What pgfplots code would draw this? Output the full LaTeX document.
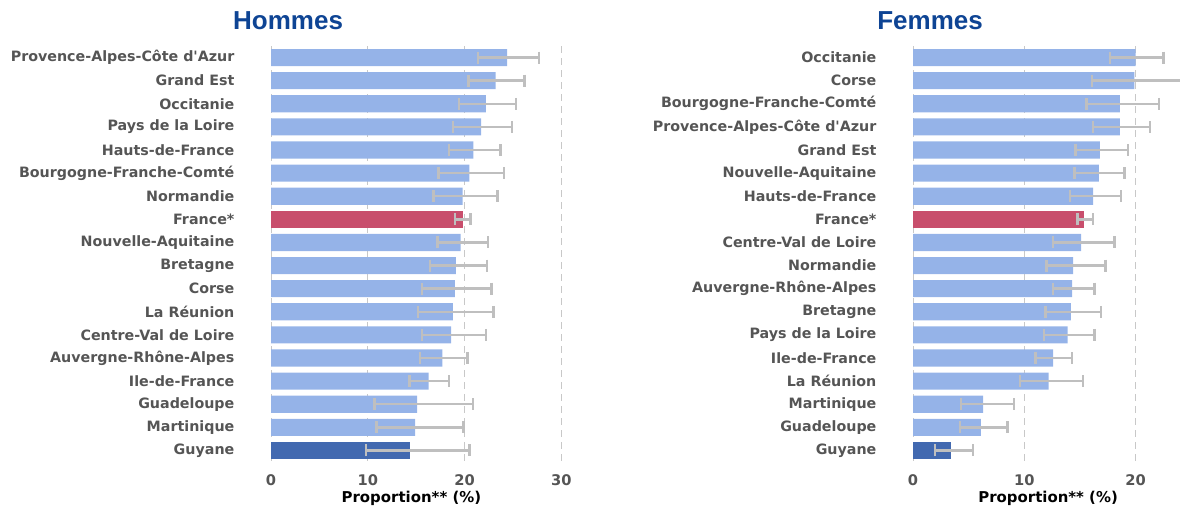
\documentclass[border=0pt]{standalone}
\usepackage{fontspec}
\setmainfont{DejaVu Sans}
\newfontfamily\titlefont{Liberation Sans}
\usepackage{pgfplots}
\usepackage{pgfplotstable}
\pgfplotsset{compat=1.18}

\definecolor{barblue}{RGB}{149,179,232}
\definecolor{barred}{RGB}{200,78,108}
\definecolor{bardark}{RGB}{66,105,176}
\definecolor{errgrey}{RGB}{191,191,191}
\definecolor{labgrey}{RGB}{85,85,85}
\definecolor{gridgrey}{RGB}{200,200,200}
\definecolor{titleblue}{RGB}{14,68,148}

% Hommes: i = row, v = proportion, lo/hi = interval
\pgfplotstableread{
i  v    lo   hi
0  24.4 21.4 27.7
1  23.2 20.4 26.2
2  22.2 19.4 25.3
3  21.7 18.8 24.9
4  20.9 18.4 23.7
5  20.5 17.3 24.1
6  19.8 16.8 23.4
8  19.6 17.2 22.4
9  19.1 16.4 22.3
10 19.0 15.6 22.8
11 18.8 15.2 23.0
12 18.6 15.6 22.2
13 17.7 15.4 20.3
14 16.3 14.3 18.4
15 15.1 10.7 20.9
16 14.9 10.9 19.9
}\hommes
\pgfplotstableread{
i  v    lo   hi
7  19.8 19.0 20.6
}\hommesfr
\pgfplotstableread{
i  v    lo   hi
17 14.4 9.8  20.5
}\hommesgy

% Femmes
\pgfplotstableread{
i  v    lo   hi
0  20.0 17.7 22.5
1  19.9 16.1 25.0
2  18.6 15.6 22.1
3  18.6 16.2 21.3
4  16.8 14.6 19.3
5  16.7 14.5 19.0
6  16.2 14.1 18.7
8  15.1 12.6 18.1
9  14.4 12.0 17.3
10 14.3 12.6 16.3
11 14.2 11.9 16.9
12 13.9 11.8 16.3
13 12.6 11.0 14.3
14 12.2 9.6  15.3
15 6.3  4.3  9.1
16 6.1  4.2  8.5
}\femmes
\pgfplotstableread{
i  v    lo   hi
7  15.4 14.8 16.2
}\femmesfr
\pgfplotstableread{
i  v    lo   hi
17 3.4  2.0  5.4
}\femmesgy

\pgfplotsset{
  panel/.style={
    scale only axis,
    anchor=south west,
    height=312pt,
    xbar, bar shift=0pt, bar width=0.74,
    y dir=reverse,
    ymin=-0.5, ymax=17.5, xmin=0,
    ytick={0,...,17},
    axis line style={draw=none},
    tick style={draw=none},
    xmajorgrids,
    grid style={gridgrey, line width=0.75pt, dash pattern=on 5.5pt off 3.5pt},
    /pgf/number format/assume math mode=true,
    yticklabel style={font=\bfseries\fontsize{10.7}{12}\selectfont, text=labgrey,
      anchor=east, inner sep=0pt, xshift=-23pt},
    xticklabel style={font=\bfseries\fontsize{11}{12}\selectfont, text=labgrey,
      anchor=north, inner sep=0pt, yshift=-9pt},
    xlabel={Proportion** (\%)},
    xlabel style={font=\bfseries\fontsize{11.2}{13}\selectfont, anchor=center, yshift=-27.5pt},
    title style={font=\titlefont\bfseries\fontsize{19.5}{22}\selectfont, text=titleblue,
      anchor=south, yshift=3pt},
    error bars/x dir=both, error bars/x explicit,
    error bars/error bar style={errgrey, line width=1.8pt},
    error bars/error mark options={errgrey, line width=1.8pt, mark size=4.5pt, rotate=90},
  },
  table/errtab/.style={x=v, y=i,
    x error plus expr=\thisrow{hi}-\thisrow{v},
    x error minus expr=\thisrow{v}-\thisrow{lo}},
}

\begin{document}
\begin{tikzpicture}
\useasboundingbox (0,0) rectangle (885pt,-381.75pt);

\begin{axis}[panel,
  at={(203.25pt,-346.5pt)}, width=225pt,
  xmax=31, xtick={0,10,20,30},
  yticklabels={Provence-Alpes-Côte d\textquotesingle Azur, Grand Est, Occitanie, Pays de la Loire,
    Hauts-de-France, Bourgogne-Franche-Comté, Normandie, France*, Nouvelle-Aquitaine,
    Bretagne, Corse, La Réunion, Centre-Val de Loire, Auvergne-Rhône-Alpes,
    Ile-de-France, Guadeloupe, Martinique, Guyane},
  xlabel style={at={(0.468,0)}},
  title={Hommes}, title style={at={(0.057,1)}},
]
\addplot[fill=barblue, draw=none] table[errtab] {\hommes};
\addplot[fill=barred, draw=none] table[errtab] {\hommesfr};
\addplot[fill=bardark, draw=none] table[errtab] {\hommesgy};
\end{axis}

\begin{axis}[panel,
  at={(684.75pt,-346.5pt)}, width=200.25pt,
  xmax=24, xtick={0,10,20},
  yticklabels={Occitanie, Corse, Bourgogne-Franche-Comté, Provence-Alpes-Côte d\textquotesingle Azur,
    Grand Est, Nouvelle-Aquitaine, Hauts-de-France, France*, Centre-Val de Loire,
    Normandie, Auvergne-Rhône-Alpes, Bretagne, Pays de la Loire, Ile-de-France,
    La Réunion, Martinique, Guadeloupe, Guyane},
  xlabel style={at={(0.506,0)}},
  title={Femmes}, title style={at={(0.064,1)}},
]
\addplot[fill=barblue, draw=none] table[errtab] {\femmes};
\addplot[fill=barred, draw=none] table[errtab] {\femmesfr};
\addplot[fill=bardark, draw=none] table[errtab] {\femmesgy};
\end{axis}
\end{tikzpicture}
\end{document}
